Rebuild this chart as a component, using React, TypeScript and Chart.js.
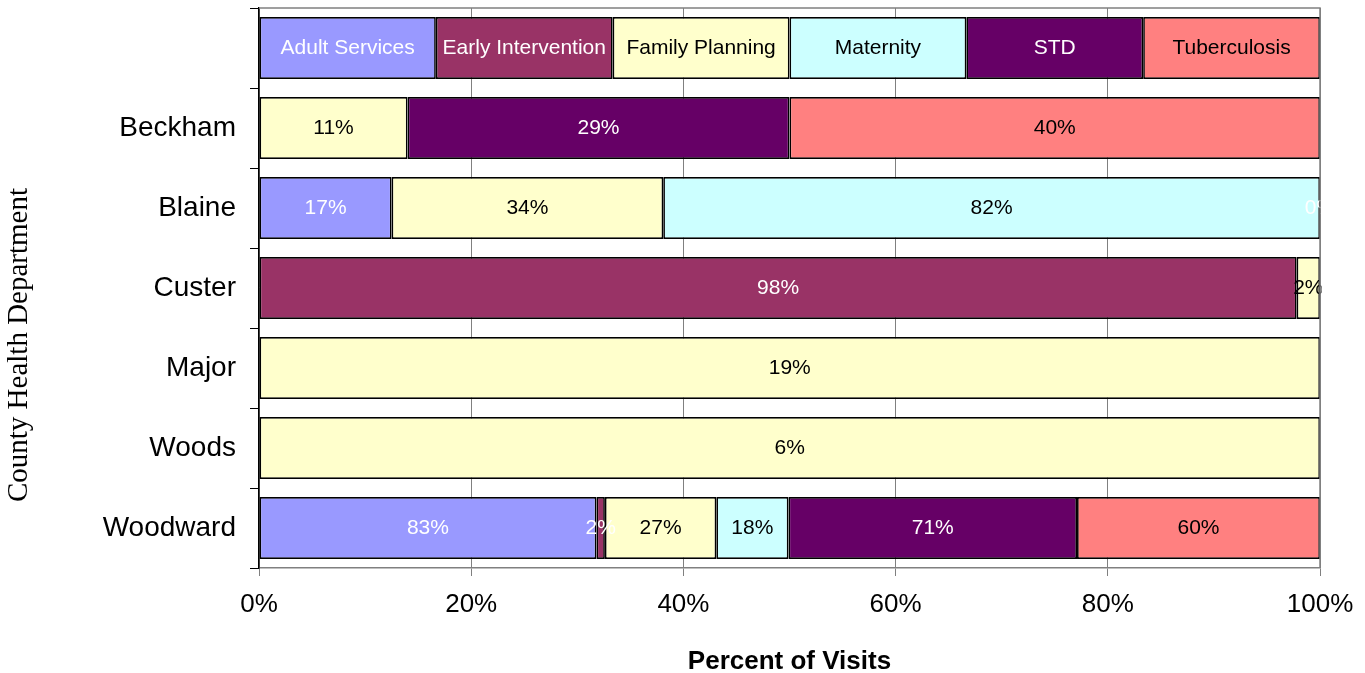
import React, { useEffect, useRef } from "react";
import { Chart, registerables } from "chart.js";

Chart.register(...registerables);

// Categories (first row is the in-plot legend band)
const categories = ["", "Beckham", "Blaine", "Custer", "Major", "Woods", "Woodward"];
const programs = ["Adult Services", "Early Intervention", "Family Planning", "Maternity", "STD", "Tuberculosis"];

// Bar lengths: share of each county's visits (legend band uses equal parts)
const adultServices = [1, 0, 12.5, 0, 0, 0, 31.8];
const earlyIntervention = [1, 0, 0, 97.8, 0, 0, 0.8];
const familyPlanning = [1, 14.0, 25.6, 2.2, 100, 100, 10.5];
const maternity = [1, 0, 61.9, 0, 0, 0, 6.8];
const std = [1, 36.0, 0, 0, 0, 0, 27.2];
const tuberculosis = [1, 50.0, 0, 0, 0, 0, 22.9];

// Data labels: share of each program's visits by county
const adultServicesLabels = [null, null, "17%", null, null, null, "83%"];
const earlyInterventionLabels = [null, null, null, "98%", null, null, "2%"];
const familyPlanningLabels = [null, "11%", "34%", "2%", "19%", "6%", "27%"];
const maternityLabels = [null, null, "82%", null, null, null, "18%"];
const stdLabels = [null, "29%", "0%", null, null, null, "71%"];
const tuberculosisLabels = [null, "40%", null, null, null, null, "60%"];

// X tick values
const xTicks = [0, 20, 40, 60, 80, 100];

const seriesValues = [adultServices, earlyIntervention, familyPlanning, maternity, std, tuberculosis];
const seriesLabels = [adultServicesLabels, earlyInterventionLabels, familyPlanningLabels, maternityLabels, stdLabels, tuberculosisLabels];
const fillColors = ["#9999FF", "#993366", "#FFFFCC", "#CCFFFF", "#660066", "#FF8080"];
const textColors = ["#FFFFFF", "#FFFFFF", "#000000", "#000000", "#FFFFFF", "#000000"];

const SANS = '"Liberation Sans", Arial, sans-serif';

export default function App() {
  const canvasRef = useRef<HTMLCanvasElement | null>(null);

  useEffect(() => {
    const canvas = canvasRef.current;
    if (!canvas) return;

    const rowSums = categories.map((_, i) => seriesValues.reduce((s, arr) => s + arr[i], 0));
    const datasets = programs.map((name, di) => ({
      label: name,
      data: seriesValues[di].map((v, i) => (rowSums[i] ? (v / rowSums[i]) * 100 : 0)),
      backgroundColor: fillColors[di],
      borderColor: "#000000",
      borderWidth: 1.7,
      borderSkipped: false as const,
      categoryPercentage: 0.775,
      barPercentage: 1,
    }));

    const segLabels = {
      id: "segLabels",
      afterDatasetsDraw(chart: any) {
        const { ctx, chartArea } = chart;
        ctx.save();
        ctx.beginPath();
        ctx.rect(chartArea.left, chartArea.top - 2, chartArea.right - chartArea.left + 1.5, chartArea.bottom - chartArea.top + 4);
        ctx.clip();
        ctx.font = `21px ${SANS}`;
        ctx.textAlign = "center";
        ctx.textBaseline = "middle";
        chart.data.datasets.forEach((ds: any, di: number) => {
          const meta = chart.getDatasetMeta(di);
          meta.data.forEach((el: any, i: number) => {
            const text = i === 0 ? programs[di] : seriesLabels[di][i];
            if (!text) return;
            const p = el.getProps(["x", "y", "base"], true);
            ctx.fillStyle = textColors[di];
            ctx.fillText(text, (p.x + p.base) / 2, p.y);
          });
        });
        ctx.restore();
      },
    };

    const frame = {
      id: "frame",
      afterDraw(chart: any) {
        const { ctx, chartArea } = chart;
        ctx.save();
        ctx.strokeStyle = "#808080";
        ctx.lineWidth = 1.5;
        ctx.beginPath();
        ctx.moveTo(chartArea.left, chartArea.top);
        ctx.lineTo(chartArea.right, chartArea.top);
        ctx.lineTo(chartArea.right, chartArea.bottom);
        ctx.stroke();
        ctx.restore();

        ctx.save();
        ctx.fillStyle = "#000000";
        ctx.font = '29px "Liberation Serif", "Times New Roman", serif';
        ctx.textAlign = "center";
        ctx.textBaseline = "alphabetic";
        ctx.translate(27, 345);
        ctx.rotate(-Math.PI / 2);
        ctx.fillText("County Health Department", 0, 0);
        ctx.restore();
      },
    };

    const chart = new Chart(canvas, {
      type: "bar",
      data: { labels: categories, datasets },
      plugins: [segLabels, frame],
      options: {
        indexAxis: "y",
        responsive: false,
        animation: false,
        layout: { padding: { top: 8, right: 45, left: 0, bottom: 0 } },
        plugins: {
          legend: { display: false },
          tooltip: { enabled: false },
        },
        scales: {
          x: {
            stacked: true,
            min: 0,
            max: 100,
            afterBuildTicks: (scale: any) => {
              scale.ticks = xTicks.map((v) => ({ value: v }));
            },
            afterFit: (scale: any) => {
              scale.height = 105;
              scale.paddingLeft = 0;
              scale.paddingRight = 0;
              scale.paddingTop = 0;
              scale.paddingBottom = 0;
            },
            ticks: {
              color: "#000000",
              font: { family: SANS, size: 26 },
              padding: 13,
              maxRotation: 0,
              callback: (v: any) => `${v}%`,
            },
            grid: {
              color: "#808080",
              lineWidth: 1,
              tickColor: "#808080",
              tickLength: 8,
            },
            border: { display: true, color: "#808080", width: 1.5 },
            title: {
              display: true,
              text: "Percent of Visits",
              color: "#000000",
              font: { family: SANS, size: 26, weight: "bold", lineHeight: 0.85 },
              padding: { top: 0, bottom: 0 },
            },
          },
          y: {
            stacked: true,
            afterFit: (scale: any) => {
              scale.width = 259;
              scale.paddingLeft = 0;
              scale.paddingRight = 0;
              scale.paddingTop = 0;
              scale.paddingBottom = 0;
            },
            ticks: {
              color: "#000000",
              font: { family: SANS, size: 28 },
              padding: 14,
            },
            grid: {
              offset: true,
              drawOnChartArea: false,
              tickColor: "#000000",
              tickLength: 9,
              lineWidth: 1,
            },
            border: { display: true, color: "#000000", width: 1.5 },
          },
        },
      },
    });

    return () => chart.destroy();
  }, []);

  return (
    <div style={{ position: "fixed", left: 0, top: 0, width: 1365, height: 673, background: "#ffffff" }}>
      <canvas ref={canvasRef} width={1365} height={673} style={{ display: "block", width: 1365, height: 673 }} />
    </div>
  );
}
